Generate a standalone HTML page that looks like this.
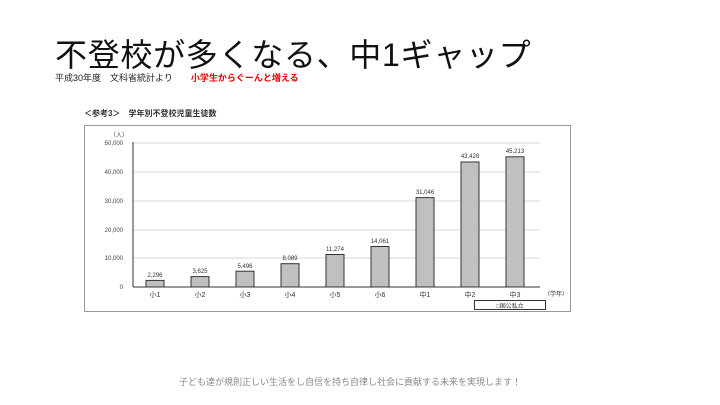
<!DOCTYPE html><html><head><meta charset="utf-8"><style>
body{margin:0;width:720px;height:405px;background:#fff;position:relative;overflow:hidden;font-family:"Liberation Sans","Noto Sans CJK JP",sans-serif}
.a{position:absolute;white-space:nowrap}
</style></head><body>
<div class="a" style="left:55px;top:30px;font-size:32px;letter-spacing:0.7px;color:#111">不登校が多くなる、中1ギャップ</div>
<div class="a" style="left:55px;top:71px;font-size:9px;color:#222">平成30年度　文科省統計より　　<span style="color:#e00;font-weight:bold">小学生からぐーんと増える</span></div>
<div class="a" style="left:84px;top:108px;font-size:8px;font-weight:bold;color:#333">＜参考3＞　学年別不登校児童生徒数</div>
<svg class="a" style="left:0;top:0" width="720" height="405">
<rect x="84.5" y="125.5" width="486" height="186" fill="none" stroke="#999"/>
<g stroke="#ccc" stroke-width="0.8"><line x1="133" x2="540" y1="143" y2="143"/><line x1="133" x2="540" y1="172" y2="172"/><line x1="133" x2="540" y1="201" y2="201"/><line x1="133" x2="540" y1="230" y2="230"/><line x1="133" x2="540" y1="258" y2="258"/></g>
<line x1="133" y1="142" x2="133" y2="287" stroke="#333"/><line x1="133" y1="287" x2="540" y2="287" stroke="#333"/>
<g font-size="6" fill="#444" text-anchor="end"><text x="123" y="145">50,000</text><text x="123" y="174">40,000</text><text x="123" y="203">30,000</text><text x="123" y="232">20,000</text><text x="123" y="260">10,000</text><text x="123" y="289">0</text><text x="128" y="137">（人）</text></g>
<g fill="#c0c0c0" stroke="#333" stroke-width="1">
<rect x="146" y="280.4" width="18" height="6.6"/><rect x="191" y="276.6" width="18" height="10.4"/><rect x="236" y="271.2" width="18" height="15.8"/><rect x="281" y="263.7" width="18" height="23.3"/><rect x="326" y="254.5" width="18" height="32.5"/><rect x="371" y="246.5" width="18" height="40.5"/><rect x="416" y="197.6" width="18" height="89.4"/><rect x="461" y="162" width="18" height="125"/><rect x="506" y="156.8" width="18" height="130.2"/></g>
<g font-size="6" fill="#333" text-anchor="middle">
<text x="155" y="277">2,296</text><text x="200" y="273">3,625</text><text x="245" y="268">5,496</text><text x="290" y="260">8,089</text><text x="335" y="251">11,274</text><text x="380" y="243">14,061</text><text x="425" y="194">31,046</text><text x="470" y="158">43,428</text><text x="515" y="153">45,213</text>
<g font-size="7"><text x="155" y="297">小1</text><text x="200" y="297">小2</text><text x="245" y="297">小3</text><text x="290" y="297">小4</text><text x="335" y="297">小5</text><text x="380" y="297">小6</text><text x="425" y="297">中1</text><text x="470" y="297">中2</text><text x="515" y="297">中3</text></g>
<text x="556" y="296">（学年）</text></g>
<rect x="474.5" y="300.5" width="71" height="9" fill="#fff" stroke="#333"/>
<text x="510" y="308" font-size="6" text-anchor="middle" fill="#333">□国公私立</text>
</svg>
<div class="a" style="left:0;width:700px;text-align:center;top:375px;font-size:9px;color:#888">子ども達が規則正しい生活をし自信を持ち自律し社会に貢献する未来を実現します！</div>
</body></html>
